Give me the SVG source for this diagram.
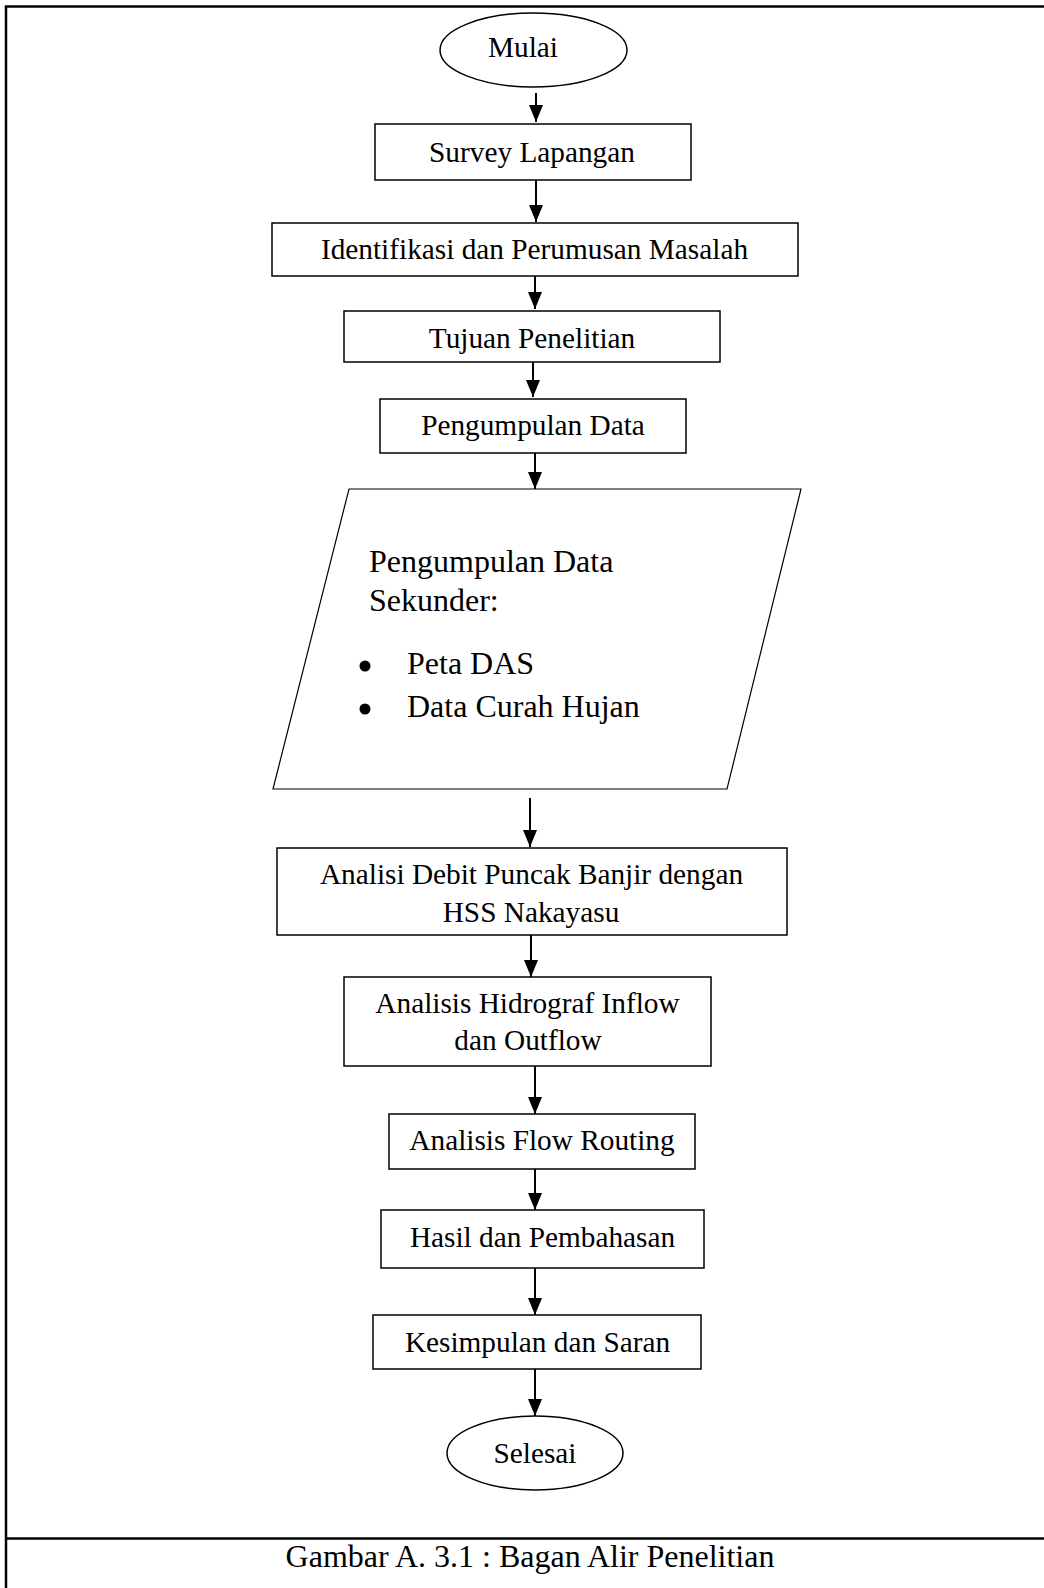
<svg xmlns="http://www.w3.org/2000/svg" width="1044" height="1588" viewBox="0 0 1044 1588">
<style>
.box{fill:#fff;stroke:#000;stroke-width:1.5}
.t{font-family:"Liberation Serif","Times New Roman",serif;font-size:29.3px;fill:#000;text-anchor:middle}
.tl{font-family:"Liberation Serif","Times New Roman",serif;font-size:32px;fill:#000}
.c{stroke:#000;stroke-width:2;fill:none}
.frame{stroke:#000;stroke-width:2.5;fill:none}
</style>
<defs>
<marker id="ah" viewBox="0 0 14 17" refX="7" refY="17" markerWidth="14" markerHeight="17" markerUnits="userSpaceOnUse" orient="auto-start-reverse">
<path d="M0,0 L14,0 L7,17 Z" fill="#000" transform="rotate(0)"/>
</marker>
<marker id="arr" viewBox="0 0 17 14" refX="17" refY="7" markerWidth="17" markerHeight="14" markerUnits="userSpaceOnUse" orient="auto">
<path d="M0,0 L17,7 L0,14 Z" fill="#000"/>
</marker>
</defs>
<rect width="1044" height="1588" fill="#fff"/>
<g id="frame">
<path class="frame" d="M6,1588 V6.5 H1044"/>
<path class="frame" d="M6,1538.5 H1044"/>
</g>
<g id="connectors">
<line class="c" x1="536" y1="93" x2="536" y2="122" marker-end="url(#arr)"/>
<line class="c" x1="536" y1="180" x2="536" y2="222" marker-end="url(#arr)"/>
<line class="c" x1="535" y1="276" x2="535" y2="309" marker-end="url(#arr)"/>
<line class="c" x1="533" y1="362" x2="533" y2="397" marker-end="url(#arr)"/>
<line class="c" x1="535" y1="453" x2="535" y2="489" marker-end="url(#arr)"/>
<line class="c" x1="530" y1="798" x2="530" y2="847" marker-end="url(#arr)"/>
<line class="c" x1="531" y1="931" x2="531" y2="977" marker-end="url(#arr)"/>
<line class="c" x1="535" y1="1066" x2="535" y2="1114" marker-end="url(#arr)"/>
<line class="c" x1="535" y1="1169" x2="535" y2="1210" marker-end="url(#arr)"/>
<line class="c" x1="535" y1="1268" x2="535" y2="1315" marker-end="url(#arr)"/>
<line class="c" x1="535" y1="1369" x2="535" y2="1416" marker-end="url(#arr)"/>
</g>
<g id="mulai">
<ellipse class="box" cx="533.5" cy="50" rx="93.5" ry="37"/>
<text class="t" x="523" y="57">Mulai</text>
</g>
<g id="survey">
<rect class="box" x="375" y="124" width="316" height="56"/>
<text class="t" x="532" y="162">Survey Lapangan</text>
</g>
<g id="identifikasi">
<rect class="box" x="272" y="223" width="526" height="53"/>
<text class="t" x="534.5" y="259">Identifikasi dan Perumusan Masalah</text>
</g>
<g id="tujuan">
<rect class="box" x="344" y="311" width="376" height="51"/>
<text class="t" x="532" y="348">Tujuan Penelitian</text>
</g>
<g id="pengumpulan">
<rect class="box" x="380" y="399" width="306" height="54"/>
<text class="t" x="533" y="435">Pengumpulan Data</text>
</g>
<g id="sekunder">
<polygon points="349,489 801,489 727,789 273,789" fill="#fff" stroke="#000" stroke-width="1.2"/>
<text class="tl" x="369" y="572">Pengumpulan Data</text>
<text class="tl" x="369" y="611">Sekunder:</text>
<circle cx="365" cy="666" r="5.5" fill="#000"/>
<text class="tl" x="407" y="674">Peta DAS</text>
<circle cx="365" cy="709" r="5.5" fill="#000"/>
<text class="tl" x="407" y="717">Data Curah Hujan</text>
</g>
<g id="analisi">
<rect class="box" x="277" y="848" width="510" height="87"/>
<text class="t" x="531.5" y="884">Analisi Debit Puncak Banjir dengan</text>
<text class="t" x="531" y="922">HSS Nakayasu</text>
</g>
<g id="hidrograf">
<rect class="box" x="344" y="977" width="367" height="89"/>
<text class="t" x="527.5" y="1013">Analisis Hidrograf Inflow</text>
<text class="t" x="528" y="1050">dan Outflow</text>
</g>
<g id="routing">
<rect class="box" x="389" y="1114" width="306" height="55"/>
<text class="t" x="542" y="1150">Analisis Flow Routing</text>
</g>
<g id="hasil">
<rect class="box" x="381" y="1210" width="323" height="58"/>
<text class="t" x="542.5" y="1247">Hasil dan Pembahasan</text>
</g>
<g id="kesimpulan">
<rect class="box" x="373" y="1315" width="328" height="54"/>
<text class="t" x="537.5" y="1352">Kesimpulan dan Saran</text>
</g>
<g id="selesai">
<ellipse class="box" cx="535" cy="1453" rx="88" ry="37"/>
<text class="t" x="535" y="1463">Selesai</text>
</g>
<g id="caption">
<text class="tl" x="530" y="1567" text-anchor="middle">Gambar A. 3.1 : Bagan Alir Penelitian</text>
</g>
</svg>
